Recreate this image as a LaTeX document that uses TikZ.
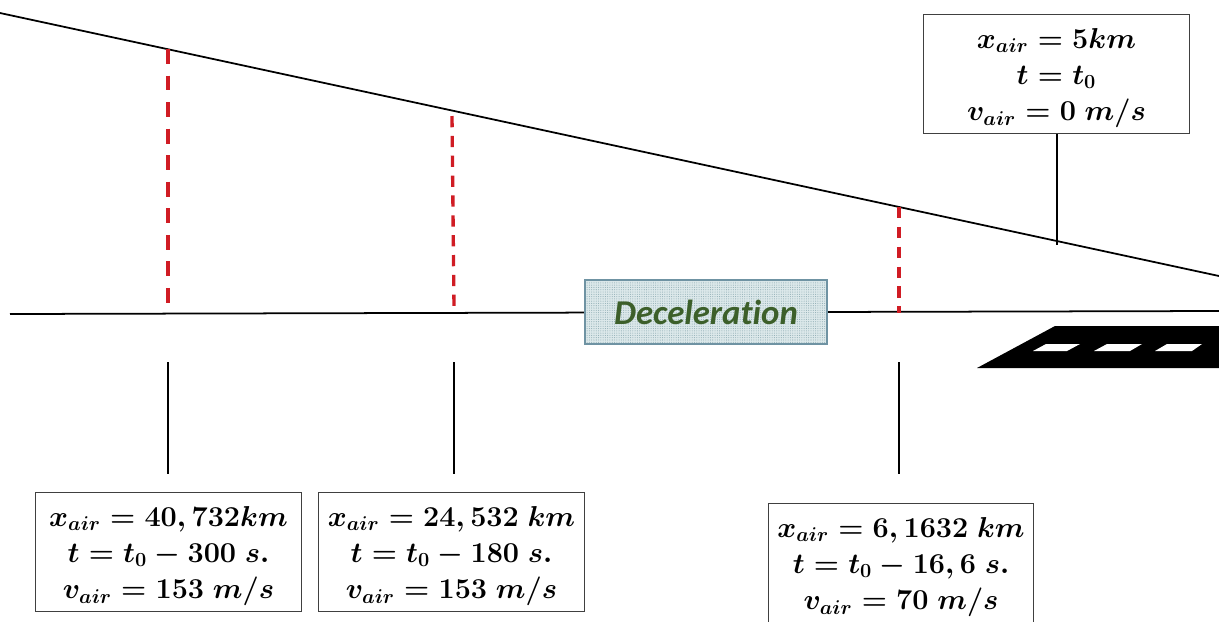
\documentclass[tikz,border=0pt]{standalone}
\usepackage{fontspec}
\usepackage{amsmath}
\usetikzlibrary{patterns.meta}
\newfontfamily\decofont[Ligatures=NoCommon]{Carlito}
\definecolor{decofill}{HTML}{DCE8EA}
\definecolor{decodots}{HTML}{8FADB4}
\definecolor{decoedge}{HTML}{6F93A3}
\definecolor{decotext}{HTML}{3C5F2A}
\definecolor{gapred}{HTML}{D01C24}
\newcommand{\infotop}{\rule{0pt}{16.8pt}}
\tikzstyle{info}=[scale=0.948, draw=black!75, line width=0.6pt, fill=white, minimum width=5.61cm, minimum height=2.53cm, align=center, inner sep=0pt, font=\fontsize{17.28}{21.8}\selectfont\boldmath]
\tikzstyle{gap}=[gapred, line width=2pt, dash pattern=on 8.5pt off 6.6pt]
\tikzstyle{gapthin}=[gapred, line width=1.9pt, dash pattern=on 6.4pt off 4.9pt]
\tikzstyle{leader}=[black, line width=1.5pt]
\tikzstyle{level}=[black, line width=1pt]

\begin{document}
\begin{tikzpicture}[x=0.2mm, y=-0.2mm]
	\useasboundingbox (0,0) rectangle (1219,621);
	\clip (0,0) rectangle (1219,621);
	\coordinate (slopeA) at (0,13);
	\coordinate (slopeB) at (1219,276);
	\coordinate (groundA) at (10,314);
	\coordinate (groundB) at (1219,311);
	\draw[level] (slopeA) -- (slopeB);
	\draw[level] (groundA) -- (groundB);
	\fill[black] (977,368) -- (1055,326) -- (1219,326) -- (1219,368) -- cycle;
	\fill[white] (1033,351) -- (1046,344) -- (1080,344) -- (1067,351) -- cycle;
	\fill[white] (1094,351) -- (1107,344) -- (1142,344) -- (1130,351) -- cycle;
	\fill[white] (1155,351) -- (1167,344) -- (1202,344) -- (1192,351) -- cycle;
	\node[preaction={fill=decofill}, pattern={Dots[distance=1.3pt, radius=0.3pt]}, pattern color=decodots, draw=decoedge, line width=0.6pt, minimum width=4.84cm, minimum height=1.28cm, inner sep=0pt, font=\decofont\fontsize{19.8}{24}\selectfont\bfseries\itshape, text=decotext] (decel) at (706,312) {Deceleration};
	\coordinate (topA) at (168,49);
	\coordinate (topB) at (452,116);
	\coordinate (topC) at (899,207);
	\coordinate (footA) at (168,305);
	\coordinate (footB) at (454,307);
	\coordinate (footC) at (899,313);
	\draw[gap] (topA) -- (footA);
	\draw[gapthin] (topB) -- (footB);
	\draw[gapthin] (topC) -- (footC);
	\node[info] (boxA) at (168.5,552) {\infotop$x_{air}=40,732km$\\$t=t_0-300\ s.$\\$v_{air}=153\ m/s$};
	\node[info] (boxB) at (451.5,552) {\infotop$x_{air}=24,532\ km$\\$t=t_0-180\ s.$\\$v_{air}=153\ m/s$};
	\node[info] (boxC) at (901,563) {\infotop$x_{air}=6,1632\ km$\\$t=t_0-16,6\ s.$\\$v_{air}=70\ m/s$};
	\node[info] (boxD) at (1056.5,74) {\infotop$x_{air}=5km$\\$t=t_0$\\$v_{air}=0\ m/s$};
	\coordinate (stemA) at (168,362);
	\coordinate (stemB) at (454,362);
	\coordinate (stemC) at (899,362);
	\coordinate (tailA) at (168,474);
	\coordinate (tailB) at (454,474);
	\coordinate (tailC) at (899,474);
	\coordinate (tailD) at (1057,245);
	\draw[leader] (stemA) -- (tailA);
	\draw[leader] (stemB) -- (tailB);
	\draw[leader] (stemC) -- (tailC);
	\draw[leader] (boxD.south -| tailD) -- (tailD);
\end{tikzpicture}
\end{document}
